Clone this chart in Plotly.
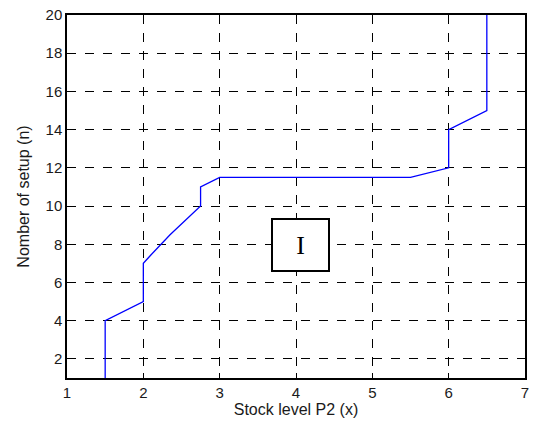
import plotly.graph_objects as go

stock_level = [1.5, 1.5, 2.0, 2.0, 2.09, 2.35, 2.75, 2.75, 3.0, 5.5, 6.0, 6.0, 6.5, 6.5]
setups = [1, 4, 5, 7, 7.4, 8.5, 10, 11, 11.5, 11.5, 12, 14, 15, 20]
x_ticks = [1, 2, 3, 4, 5, 6, 7]
y_ticks = [2, 4, 6, 8, 10, 12, 14, 16, 18, 20]

font_family = "Liberation Sans, Arial"
axis_common = dict(showline=True, linecolor="black", linewidth=1.5, mirror="ticks",
                   ticks="inside", ticklen=5, tickcolor="black",
                   showgrid=True, gridcolor="black", griddash="dash", gridwidth=1,
                   zeroline=False, automargin=False, ticklabeloverflow="allow",
                   tickfont=dict(family=font_family, size=15, color="#1a1a1a"))

fig = go.Figure()
fig.add_trace(go.Scatter(x=stock_level, y=setups, mode="lines",
                         line=dict(color="#0000ff", width=1.3), showlegend=False))

fig.update_xaxes(range=[1, 7], tickvals=x_ticks,
                 title=dict(text="Stock level P2 (x)", font=dict(family=font_family, size=16, color="#1a1a1a"), standoff=2),
                 **axis_common)
fig.update_yaxes(range=[1, 20], tickvals=y_ticks,
                 title=dict(text="Nomber of setup (n)", font=dict(family=font_family, size=16, color="#1a1a1a"), standoff=12),
                 **axis_common)

fig.add_annotation(x=4.06, y=7.95, xref="x", yref="y", text="I", showarrow=False,
                   font=dict(family="Liberation Serif, Times New Roman", size=26, color="black"),
                   bordercolor="black", borderwidth=2, bgcolor="white",
                   width=53, height=48)

fig.update_layout(width=533, height=426, margin=dict(l=67, r=8, t=15, b=48),
                  plot_bgcolor="white", paper_bgcolor="white")

fig.write_html("out.html", config={"displayModeBar": False},
               post_script="document.body.style.margin='0';document.body.style.overflow='hidden';")
